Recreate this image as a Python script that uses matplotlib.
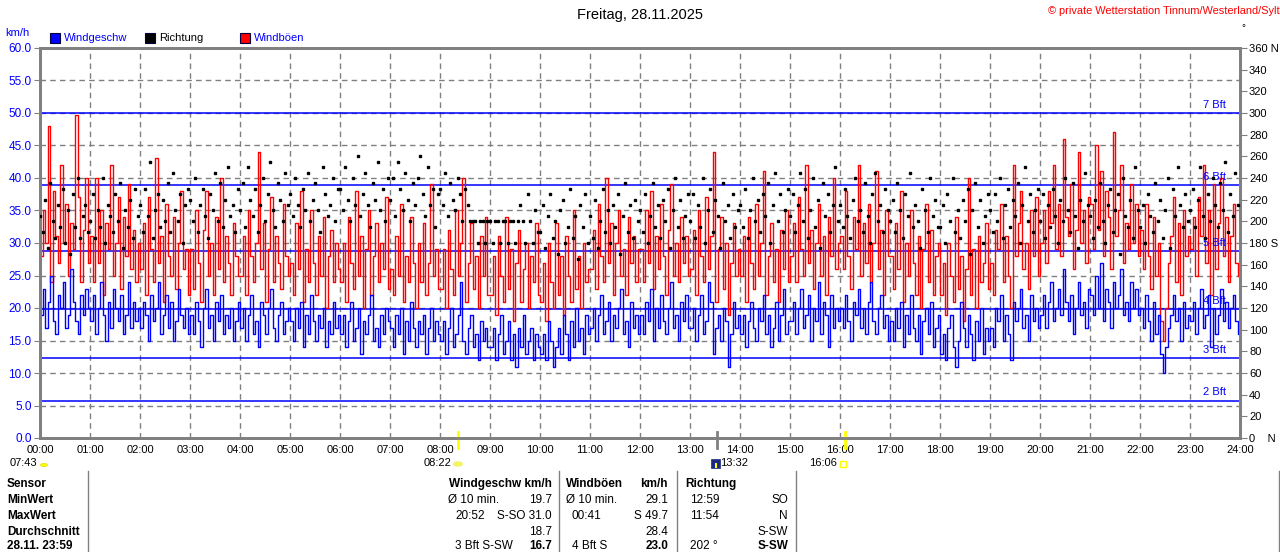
import numpy as np
import matplotlib
matplotlib.use("Agg")
import matplotlib.pyplot as plt
from matplotlib.patches import Rectangle, Circle

plt.rcParams['font.family'] = ['Liberation Sans', 'DejaVu Sans']

# ---------------- data (3-minute values, 00:00 .. 23:57) ----------------
speed_kmh = [
    19,23,17,21,25,18,16,22,20,24,17,19,26,21,18,16,22,19,23,20,
    18,22,16,20,24,19,15,21,17,23,20,18,22,16,19,24,17,21,18,20,
    17,21,19,15,22,18,20,24,16,19,22,17,21,15,18,23,19,17,20,16,
    19,16,21,18,14,20,23,17,19,15,21,18,22,16,19,17,20,15,18,21,
    17,20,15,19,22,16,18,14,21,19,16,20,23,17,15,19,21,16,18,20,
    18,15,20,17,21,14,19,16,22,18,15,19,17,20,14,18,16,21,17,19,
    16,19,14,18,21,15,17,20,13,18,16,19,22,15,17,14,19,16,20,18,
    17,14,19,16,20,13,18,15,21,17,14,18,16,19,13,17,20,15,18,16,
    15,18,13,17,20,14,16,19,24,15,13,17,19,14,16,12,18,15,17,14,
    14,17,12,16,19,13,15,18,12,16,11,17,14,19,13,15,17,12,16,14,
    13,16,12,18,15,11,14,17,13,19,16,12,18,14,20,15,17,13,19,16,
    17,20,15,19,22,16,18,21,15,19,17,20,23,16,18,14,21,17,19,16,
    19,16,21,18,23,15,20,17,22,18,16,20,24,17,19,15,21,18,22,17,
    17,20,15,19,22,16,18,24,21,13,17,19,15,20,18,11,16,21,17,19,
    16,19,14,18,21,17,15,20,18,22,16,19,14,17,21,15,19,23,16,18,
    18,21,16,20,23,17,19,22,15,20,18,24,16,21,19,14,22,17,20,18,
    20,17,22,18,15,21,19,23,17,20,16,21,24,18,16,20,22,17,19,15,
    18,15,20,17,21,14,19,16,22,17,15,19,13,18,20,16,21,14,17,19,
    13,16,12,17,19,14,11,15,21,17,14,19,16,12,18,15,20,13,17,15,
    17,14,20,18,22,15,19,16,12,21,18,20,23,17,19,15,22,18,20,17,
    19,22,17,21,24,18,20,23,19,26,21,18,22,16,20,24,19,21,17,23,
    22,19,25,20,27,18,23,21,17,24,20,22,26,19,21,18,24,20,23,19,
    20,17,22,18,15,21,16,19,13,10,14,17,19,22,18,20,15,21,17,19,
    18,21,16,20,23,17,19,22,14,20,16,19,23,18,21,17,20,22,18,16,
]
gust_kmh = [
    28,35,30,48,24,38,31,27,42,30,36,25,33,29,49.7,37,24,32,40,27,
    31,24,40,27,35,22,33,29,42,25,30,37,23,34,28,39,26,32,24,30,
    26,33,22,37,29,24,43,27,31,21,36,28,25,34,23,30,38,26,29,22,
    29,23,35,27,21,32,38,25,30,22,34,26,40,24,31,27,22,33,28,25,
    25,31,22,35,28,24,30,44,26,33,21,29,37,24,31,27,23,36,28,25,
    27,22,33,26,38,21,29,24,35,27,22,31,25,34,20,28,32,24,30,26,
    24,30,21,34,27,23,38,25,31,20,29,35,22,28,33,24,30,26,37,23,
    26,22,31,25,36,21,28,24,34,27,20,30,24,33,22,27,39,25,29,23,
    23,29,20,32,26,22,35,25,30,40,21,27,33,23,28,20,31,25,34,22,
    22,28,19,31,25,21,34,23,29,18,27,32,21,26,30,20,28,24,33,22,
    21,27,18,30,24,20,33,22,28,19,31,25,21,35,23,28,20,30,24,26,
    26,32,23,36,28,24,40,27,33,22,30,35,25,29,22,34,27,31,24,29,
    29,24,35,27,38,23,31,26,36,28,22,32,39,25,30,24,34,27,31,25,
    26,32,22,35,28,24,37,26,31,44,21,29,34,23,30,19,27,33,25,29,
    25,31,21,34,27,23,36,25,30,41,22,28,33,24,29,21,32,26,35,24,
    28,33,24,37,29,25,42,27,32,23,30,36,25,31,22,34,28,40,26,30,
    31,26,38,28,23,34,29,42,25,33,27,36,24,30,41,26,32,22,35,28,
    28,23,33,26,38,21,30,25,35,27,22,31,20,29,36,24,32,22,28,30,
    22,27,19,30,25,21,34,23,28,18,26,40,22,29,20,31,24,27,33,23,
    27,22,32,29,36,24,31,25,20,42,28,33,38,26,30,23,35,28,37,25,
    30,35,27,38,33,42,29,36,28,46,34,31,39,26,32,44,30,35,27,37,
    36,29,45,32,41,28,38,34,26,47,31,35,42,27,33,29,39,30,36,28,
    32,26,36,28,23,34,25,30,18,15,20,27,31,37,24,33,22,35,28,31,
    29,34,25,37,31,42,27,35,22,39,26,33,40,28,34,24,31,36,27,25,
]
direction_deg = [
    205,190,220,175,235,200,185,215,195,230,180,210,170,225,195,240,185,205,215,190,
    200,225,185,210,195,240,180,215,205,190,225,200,235,175,210,195,220,185,230,205,
    215,190,230,205,255,185,210,225,195,220,200,235,190,245,210,200,225,180,215,230,
    220,200,240,190,215,230,205,185,225,210,245,200,235,195,220,250,205,215,190,230,
    210,235,195,250,220,205,230,190,215,240,200,225,255,210,195,235,220,200,245,215,
    225,205,240,215,195,230,210,245,200,220,235,210,190,250,225,205,215,240,200,230,
    230,210,250,220,200,240,215,260,205,225,245,215,195,235,220,255,210,230,200,240,
    220,240,205,255,230,210,245,220,200,235,215,240,260,225,205,250,215,230,195,225,
    230,215,245,205,235,220,210,240,225,200,230,215,200,200,200,180,200,200,180,200,
    200,180,200,200,180,200,200,180,200,200,180,200,215,200,180,225,200,180,210,190,
    190,215,175,205,225,185,200,170,210,220,180,195,230,185,205,165,215,195,225,180,
    205,185,220,175,200,230,190,210,180,215,195,225,170,205,235,190,215,185,220,200,
    210,190,225,180,205,235,195,215,185,220,200,230,175,210,240,195,220,185,205,225,
    200,225,185,215,195,240,180,210,230,190,220,205,175,235,200,215,185,225,195,210,
    215,195,230,185,210,240,200,220,190,225,205,235,180,215,245,200,225,190,210,230,
    205,225,190,215,245,200,230,185,210,240,195,220,175,235,205,225,190,215,250,200,
    215,195,230,205,185,220,240,200,210,190,235,205,180,225,245,200,215,190,230,210,
    200,220,190,235,210,185,225,205,245,195,215,200,175,230,210,190,240,205,220,195,
    195,215,180,225,200,240,190,210,185,220,200,230,170,210,235,195,220,180,205,225,
    210,190,225,200,240,185,215,230,195,220,205,235,180,215,250,200,225,190,210,230,
    200,225,185,215,195,230,205,180,220,200,240,210,190,235,205,175,220,200,245,215,
    205,185,220,195,235,200,180,215,230,190,210,225,170,240,205,195,220,185,250,210,
    195,215,180,225,205,190,235,200,220,185,210,240,175,230,205,250,215,195,225,200,
    210,230,195,220,250,205,185,225,200,240,215,195,235,210,255,190,225,205,245,215,
]
bft_levels = [5.76, 12.24, 19.8, 28.8, 38.9, 50.0]
bft_labels = ["2 Bft", "3 Bft", "4 Bft", "5 Bft", "6 Bft", "7 Bft"]
hour_labels = [f"{h:02d}:00" for h in range(25)]

title = "Freitag, 28.11.2025"
copyright_txt = "\u00a9 private Wetterstation Tinnum/Westerland/Sylt"
table_rows = ["Sensor", "MinWert", "MaxWert", "Durchschnitt", "28.11. 23:59"]

# ---------------- figure ----------------
W, H = 1280, 552
fig = plt.figure(figsize=(W/100, H/100), dpi=100)
fig.patch.set_facecolor("white")

def fx(x):
    return x / W

def fy(y):
    return 1 - y / H

def T(x, y, s, **kw):
    kw.setdefault("va", "center")
    kw.setdefault("fontsize", 8)
    fig.text(fx(x), fy(y), s, **kw)

ax = fig.add_axes([fx(40), fy(438), 1200/W, 390/H])
ax2 = ax.twinx()

def times(series):
    return np.arange(len(series)) * 24.0 / len(series)

tg = np.append(times(gust_kmh), 24.0)
ts = np.append(times(speed_kmh), 24.0)
g_ext = np.append(gust_kmh, gust_kmh[-1])
s_ext = np.append(speed_kmh, speed_kmh[-1])

grey = "#808080"
for v in range(5, 60, 5):
    ax.axhline(v, color=grey, lw=1, ls=(0, (4, 3)), zorder=1)
for h in range(1, 24):
    ax.axvline(h, color=grey, lw=1, ls=(0, (4, 3)), zorder=1)
for lv, lb in zip(bft_levels, bft_labels):
    ax.axhline(lv, color="#0000ff", lw=1.1, zorder=2)
    ax.text(23.72, lv + 1.25, lb, color="#0000ff", ha="right", va="center",
            fontsize=8, zorder=6)

ax.step(tg, g_ext, where="post", color="#ff0000", lw=1.0, zorder=3)
ax.step(ts, s_ext, where="post", color="#0000ff", lw=1.0, zorder=4)
ax2.plot(times(direction_deg), direction_deg, ls="none", marker="s", ms=2.0,
         color="black", zorder=5)

ax.set_xlim(0, 24)
ax.set_ylim(0, 60)
ax2.set_ylim(0, 360)
ax.set_xticks(range(25))
ax.set_xticklabels(hour_labels, fontsize=8)
ax.tick_params(axis="x", length=0, pad=5)
ax.set_yticks(range(0, 61, 5))
ax.set_yticklabels([f"{v:.1f}" for v in range(0, 61, 5)], color="#0000ff", fontsize=8.5)
ax.tick_params(axis="y", length=4, color=grey, pad=2)
r_ticks = list(range(0, 361, 20))
r_labels = []
for v in r_ticks:
    if v == 0:
        r_labels.append("0    N")
    elif v == 180:
        r_labels.append("180 S")
    elif v == 360:
        r_labels.append("360 N")
    else:
        r_labels.append(str(v))
ax2.set_yticks(r_ticks)
ax2.set_yticklabels(r_labels, fontsize=8)
ax2.tick_params(axis="y", length=5, color=grey, pad=1.5)
for a in (ax, ax2):
    for sp in a.spines.values():
        sp.set_color(grey)
        sp.set_linewidth(2)

# sun / moon markers on the time axis
for hx, col in [(8 + 22/60, "#ffff00"), (13 + 32/60, grey), (16 + 6/60, "#ffff00")]:
    ax.plot([hx, hx], [-1.6, 1.0], color=col, lw=2, clip_on=False, zorder=7)

# ---------------- texts ----------------
T(640, 15, title, ha="center", fontsize=10.5)
T(1048, 11, copyright_txt, ha="left", color="#ff0000", fontsize=7.9)
T(1243, 28, "\u00b0", ha="center", fontsize=7)
T(5, 33, "km/h", ha="left", color="#0000ff", fontsize=8)

for x0, col, lab, tcol in [(50, "#0000ff", "Windgeschw", "#0000ff"),
                           (145, "black", "Richtung", "black"),
                           (240, "#ff0000", "Windb\u00f6en", "#0000ff")]:
    fig.patches.append(Rectangle((fx(x0), fy(43)), 10/W, 10/H, transform=fig.transFigure,
                                 facecolor=col, edgecolor="#000040", lw=0.8))
    T(x0 + 14, 38, lab, ha="left", color=tcol, fontsize=8)

T(37, 463, "07:43", ha="right", fontsize=8)
fig.patches.append(Circle((fx(44), fy(465)), 3.5/W, transform=fig.transFigure,
                          facecolor="#ffff00", edgecolor="#e0e000", lw=0.5))
T(452, 463, "08:22", ha="right", fontsize=8)
fig.patches.append(Circle((fx(458), fy(464)), 4/W, transform=fig.transFigure,
                          facecolor="#ffff00", edgecolor="#f0f080", lw=1.5))
fig.patches.append(Rectangle((fx(711), fy(468)), 9/W, 9/H, transform=fig.transFigure,
                             facecolor="#1a2a80", edgecolor="#1a2a80", lw=0.5))
fig.patches.append(Rectangle((fx(715), fy(468)), 2/W, 5/H, transform=fig.transFigure,
                             facecolor="#ffff00", edgecolor="none"))
T(720, 463, "13:32", ha="left", fontsize=8)
T(837, 463, "16:06", ha="right", fontsize=8)
fig.patches.append(Rectangle((fx(840), fy(467)), 6/W, 6/H, transform=fig.transFigure,
                             facecolor="none", edgecolor="#ffff00", lw=1))

# ---------------- table ----------------
for xl in [88, 559, 677, 796, 1279]:
    fig.add_artist(plt.Line2D([fx(xl), fx(xl)], [fy(471), 0], color=grey, lw=1,
                              transform=fig.transFigure))
row_y = [484, 500, 516, 532, 546]
for yy, lab in zip(row_y, table_rows):
    T(7, yy, lab, ha="left", fontweight="bold", fontsize=8.5)

fs = 8.5
T(552, row_y[0], "Windgeschw km/h", ha="right", fontweight="bold", fontsize=fs)
T(448, row_y[1], "\u00d8 10 min.", ha="left", fontsize=fs)
T(552, row_y[1], "19.7", ha="right", fontsize=fs)
T(455, row_y[2], "20:52", ha="left", fontsize=fs)
T(552, row_y[2], "S-SO 31.0", ha="right", fontsize=fs)
T(552, row_y[3], "18.7", ha="right", fontsize=fs)
T(455, row_y[4], "3 Bft S-SW", ha="left", fontsize=fs)
T(552, row_y[4], "16.7", ha="right", fontweight="bold", fontsize=fs)

T(566, row_y[0], "Windb\u00f6en", ha="left", fontweight="bold", fontsize=fs)
T(668, row_y[0], "km/h", ha="right", fontweight="bold", fontsize=fs)
T(566, row_y[1], "\u00d8 10 min.", ha="left", fontsize=fs)
T(668, row_y[1], "29.1", ha="right", fontsize=fs)
T(572, row_y[2], "00:41", ha="left", fontsize=fs)
T(668, row_y[2], "S 49.7", ha="right", fontsize=fs)
T(668, row_y[3], "28.4", ha="right", fontsize=fs)
T(572, row_y[4], "4 Bft S", ha="left", fontsize=fs)
T(668, row_y[4], "23.0", ha="right", fontweight="bold", fontsize=fs)

T(685, row_y[0], "Richtung", ha="left", fontweight="bold", fontsize=fs)
T(690, row_y[1], "12:59", ha="left", fontsize=fs)
T(788, row_y[1], "SO", ha="right", fontsize=fs)
T(690, row_y[2], "11:54", ha="left", fontsize=fs)
T(788, row_y[2], "N", ha="right", fontsize=fs)
T(788, row_y[3], "S-SW", ha="right", fontsize=fs)
T(690, row_y[4], "202 \u00b0", ha="left", fontsize=fs)
T(788, row_y[4], "S-SW", ha="right", fontweight="bold", fontsize=fs)

fig.savefig("out.png", dpi=100, facecolor="white")
